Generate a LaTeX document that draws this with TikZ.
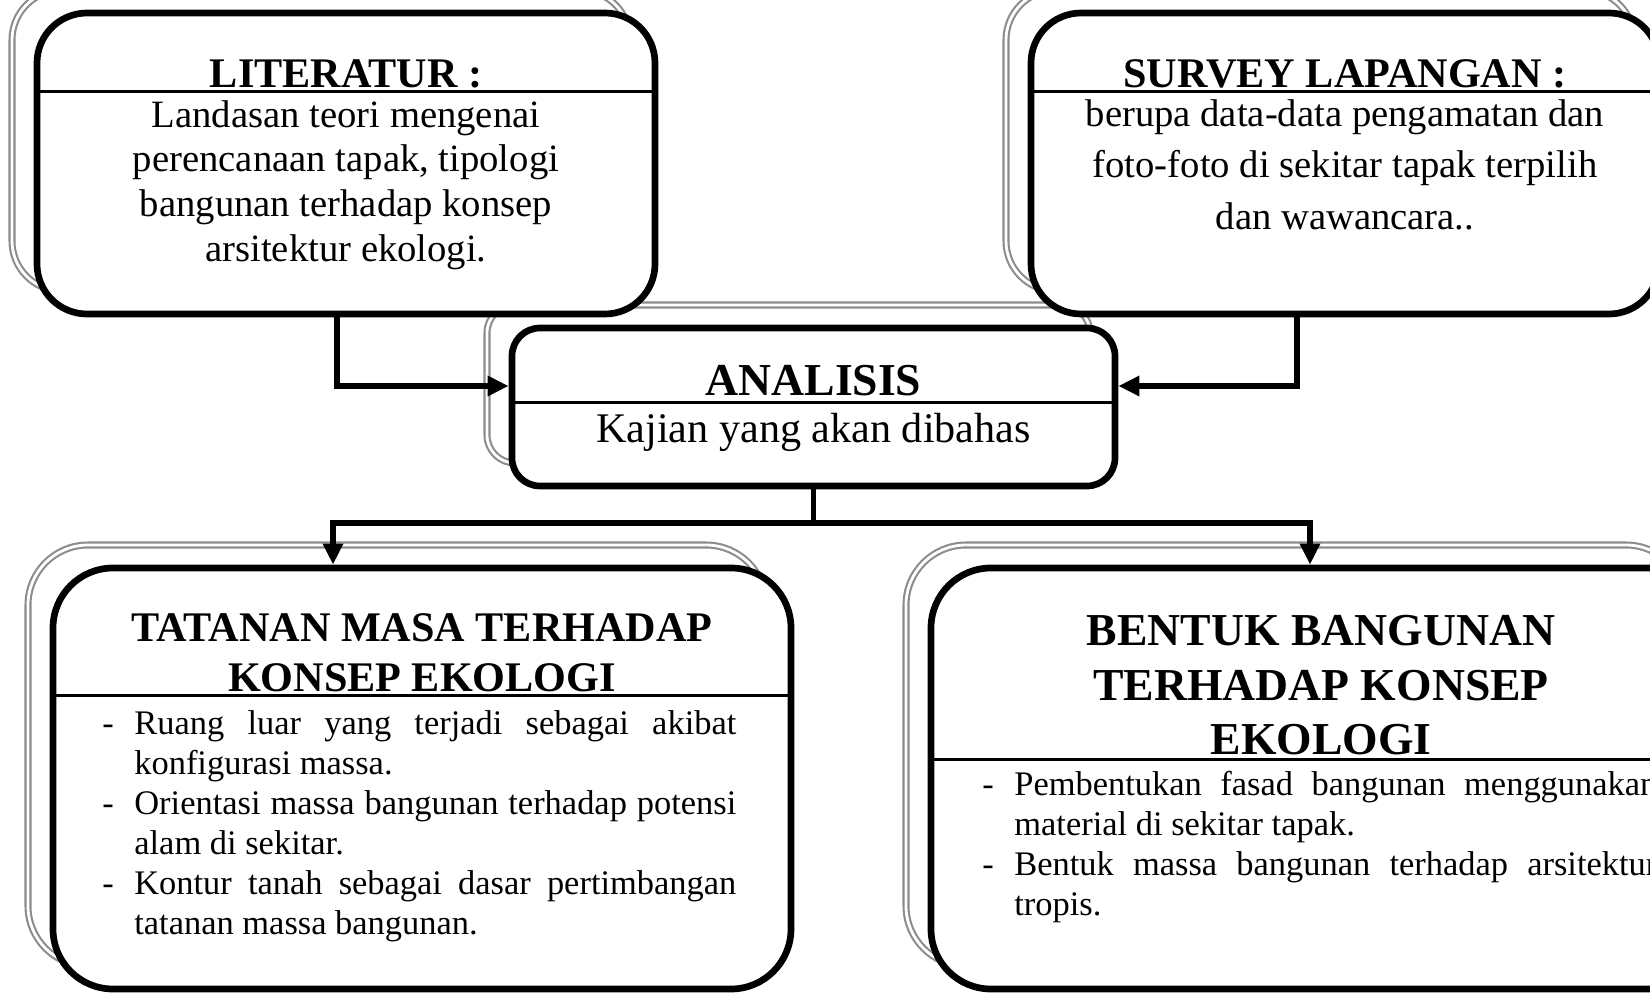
\documentclass[tikz,border=0pt]{standalone}
\usepackage{fontspec}
\setmainfont{Liberation Serif}
\usepackage{tikz}
\usetikzlibrary{calc,arrows.meta,shadows}

\newlength{\butirindent}
\setlength{\butirindent}{0.37cm}
\newcommand{\butir}[1]{\par\noindent\hangindent=\butirindent\hangafter=1\makebox[\butirindent][l]{\hspace{0.05cm}-}#1\par}

\begin{document}
\begin{tikzpicture}[
    panel/.style={draw, line width=1.9pt, fill=white, inner sep=0pt,
        copy shadow={shadow xshift=-0.25cm, shadow yshift=0.23cm, draw=gray!90,
            double=white, double distance=0.8pt, line width=0.6pt}},
    judul/.style={font=\bfseries\fontsize{12}{14.2}\selectfont, align=center, inner sep=0pt, anchor=south},
    isi/.style={font=\fontsize{11}{12.7}\selectfont, align=center, inner sep=0pt, anchor=north},
    daftar/.style={font=\fontsize{9.8}{11.4}\selectfont, align=justify, inner sep=0pt, anchor=north west},
    garis/.style={line width=0.8pt},
    conn/.style={line width=1.6pt},
    >={Triangle[length=6pt,width=5.5pt]}
  ]
    \useasboundingbox (0,0) rectangle (16.5,9.92);
    \clip (0,0) rectangle (16.5,9.92);
    % boxes (analisis first, so its shadow lies under the top boxes)
    \node[panel, rounded corners=0.28cm, minimum width=6.03cm, minimum height=1.58cm] (ana) at (8.135,5.85) {};
    \node[panel, rounded corners=0.5cm, minimum width=6.18cm, minimum height=3.01cm] (lit) at (3.46,8.285) {};
    \node[panel, rounded corners=0.5cm, minimum width=6.28cm, minimum height=3.01cm] (sur) at (13.45,8.285) {};
    \node[panel, rounded corners=0.6cm, minimum width=7.38cm, minimum height=4.21cm] (tat) at (4.22,2.135) {};
    \node[panel, rounded corners=0.6cm, minimum width=7.80cm, minimum height=4.21cm] (ben) at (13.21,2.135) {};
    % header lines
    \draw[garis] ($(lit.north west)+(0,-0.82)$) -- ($(lit.north east)+(0,-0.82)$);
    \draw[garis] ($(sur.north west)+(0,-0.82)$) -- ($(sur.north east)+(0,-0.82)$);
    \draw[garis] ($(ana.north west)+(0,-0.78)$) -- ($(ana.north east)+(0,-0.78)$);
    \draw[garis] ($(tat.north west)+(0,-1.31)$) -- ($(tat.north east)+(0,-1.31)$);
    \draw[garis] ($(ben.north west)+(0,-1.95)$) -- ($(ben.north east)+(0,-1.95)$);
    % literatur
    \node[judul] (litjudul) at ($(lit.north)+(0,-0.79)$) {LITERATUR :};
    \node[isi] (litisi) at ($(lit.north)+(0,-0.90)$) {Landasan teori mengenai\\perencanaan tapak, tipologi\\bangunan terhadap konsep\\arsitektur ekologi.};
    % survey
    \node[judul] (surjudul) at ($(sur.north)+(0,-0.79)$) {SURVEY LAPANGAN :};
    \node[isi, font=\fontsize{11}{14.7}\selectfont] (surisi) at ($(sur.north)+(0,-0.89)$) {berupa data-data pengamatan dan\\foto-foto di sekitar tapak terpilih\\dan wawancara..};
    % analisis
    \node[judul, font=\bfseries\fontsize{13}{15}\selectfont] (anajudul) at ($(ana.north)+(0,-0.72)$) {ANALISIS};
    \node[isi, font=\fontsize{12}{14}\selectfont] (anaisi) at ($(ana.north)+(0,-0.88)$) {Kajian yang akan dibahas};
    % tatanan masa
    \node[judul] (tatjudul) at ($(tat.north)+(0,-1.28)$) {TATANAN MASA TERHADAP\\KONSEP EKOLOGI};
    \node[daftar, text width=6.39cm] (tatisi) at ($(tat.north west)+(0.47,-1.29)$) {%
        \butir{Ruang luar yang terjadi sebagai akibat\linebreak konfigurasi massa.}%
        \butir{Orientasi massa bangunan terhadap potensi\linebreak alam di sekitar.}%
        \butir{Kontur tanah sebagai dasar pertimbangan\linebreak tatanan massa bangunan.}};
    % bentuk bangunan
    \node[judul, font=\bfseries\fontsize{13}{15.5}\selectfont] (benjudul) at ($(ben.north)+(0,-1.91)$) {BENTUK BANGUNAN\\TERHADAP KONSEP\\EKOLOGI};
    \node[daftar, text width=6.80cm] (benisi) at ($(ben.north west)+(0.49,-1.90)$) {%
        \butir{Pembentukan fasad bangunan menggunakan\linebreak material di sekitar tapak.}%
        \butir{Bentuk massa bangunan terhadap arsitektur\linebreak tropis.}};
    % connectors
    \coordinate (kiri1) at (3.37,6.06);
    \coordinate (kanan1) at (12.97,6.06);
    \coordinate (cabkiri) at (3.33,4.69);
    \coordinate (cabkanan) at (13.10,4.69);
    \draw[conn,->] (lit.south -| kiri1) |- (ana.west |- kiri1); % literatur -> analisis
    \draw[conn,->] (sur.south -| kanan1) |- (ana.east |- kanan1); % survey -> analisis
    \draw[conn] (ana.south) -- (ana.south |- cabkiri);
    \draw[conn,->] (cabkiri -| ana.south) -| (tat.north -| cabkiri); % to tatanan
    \draw[conn,->] (cabkanan -| ana.south) -| (ben.north -| cabkanan); % to bentuk
\end{tikzpicture}
\end{document}
